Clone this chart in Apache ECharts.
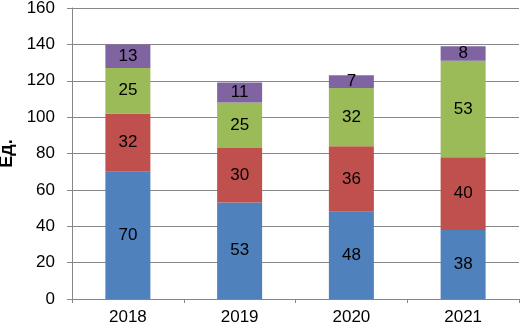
<!DOCTYPE html>
<html>
<head>
<meta charset="utf-8">
<script src="https://cdn.jsdelivr.net/npm/echarts@6/dist/echarts.min.js"></script>
<style>
  html, body { margin: 0; padding: 0; background: #fff; }
  #chart { width: 521px; height: 328px; }
</style>
</head>
<body>
<div id="chart"></div>
<script>
// годы и значения по сериям (снизу вверх)
var years = ['2018', '2019', '2020', '2021'];
var blueVals = [70, 53, 48, 38];
var redVals = [32, 30, 36, 40];
var greenVals = [25, 25, 32, 53];
var purpleVals = [13, 11, 7, 8];

var colors = ['#4F81BD', '#C0504D', '#9BBB59', '#8064A2'];
var font = 'Arial, "Liberation Sans", sans-serif';

function makeSeries(vals, i) {
    return {
        type: 'bar',
        stack: 'all',
        barWidth: 45,
        data: vals,
        itemStyle: { color: colors[i] },
        label: {
            show: true,
            position: 'inside',
            color: '#000',
            fontSize: 17,
            fontFamily: font
        }
    };
}

var option = {
    animation: false,
    grid: { left: 72, right: 2, top: 8, bottom: 29, outerBoundsMode: 'none', containLabel: false },
    xAxis: {
        type: 'category',
        data: years,
        axisLine: { lineStyle: { color: '#868686', width: 1 } },
        axisTick: { show: true, length: 4, lineStyle: { color: '#868686' } },
        axisLabel: { color: '#000', fontSize: 17, fontFamily: font, margin: 10 }
    },
    yAxis: {
        type: 'value',
        min: 0,
        max: 160,
        interval: 20,
        name: 'Ед.',
        nameLocation: 'middle',
        nameGap: 51,
        nameTextStyle: { color: '#000', fontSize: 18, fontWeight: 'bold', fontFamily: font },
        axisLine: { show: true, lineStyle: { color: '#868686', width: 1 } },
        axisTick: { show: true, length: 5, lineStyle: { color: '#868686' } },
        axisLabel: { color: '#000', fontSize: 17, fontFamily: font, margin: 17 },
        splitLine: { lineStyle: { color: '#868686', width: 1 } }
    },
    series: [
        makeSeries(blueVals, 0),
        makeSeries(redVals, 1),
        makeSeries(greenVals, 2),
        makeSeries(purpleVals, 3)
    ]
};

var chart = echarts.init(document.getElementById('chart'));
chart.setOption(option);
</script>
</body>
</html>
